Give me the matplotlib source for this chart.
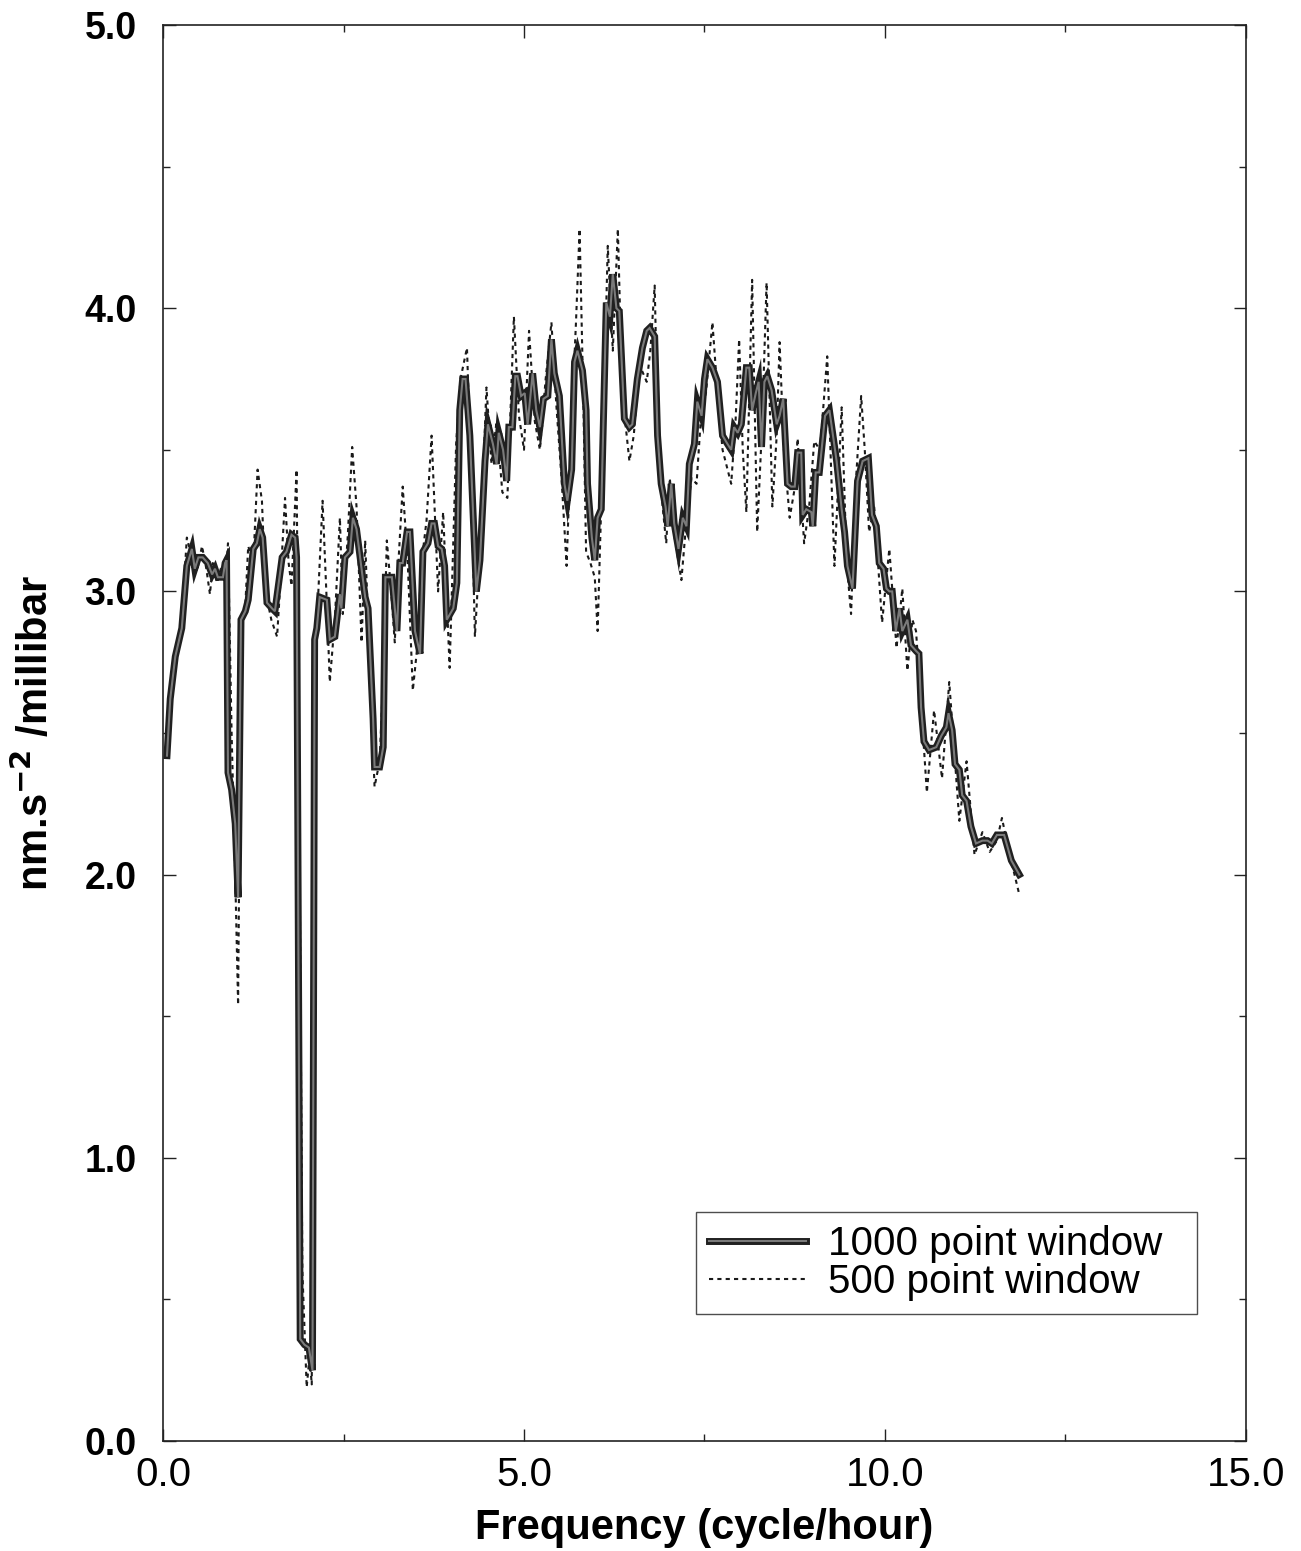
import matplotlib
matplotlib.use("Agg")
import matplotlib.pyplot as plt
import matplotlib.patheffects as pe
from matplotlib.ticker import MultipleLocator

plt.rcParams['font.family'] = ['Liberation Sans', 'DejaVu Sans']

# admittance spectrum, 1000 point window
freq_1000 = [0.055, 0.10, 0.17, 0.26, 0.33, 0.40, 0.44, 0.49, 0.55, 0.62, 0.68, 0.72, 0.76, 0.83,
             0.86, 0.88, 0.90, 0.95, 1.00, 1.04, 1.08, 1.14, 1.18, 1.25, 1.30, 1.34, 1.38, 1.44,
             1.51, 1.55, 1.65, 1.71, 1.78, 1.83, 1.85, 1.90, 1.96, 2.02, 2.07, 2.10, 2.13, 2.17,
             2.27, 2.31, 2.38, 2.45, 2.47, 2.52, 2.59, 2.63, 2.68, 2.73, 2.80, 2.84, 2.91, 2.93,
             3.00, 3.05, 3.08, 3.17, 3.24, 3.28, 3.32, 3.38, 3.42, 3.49, 3.56, 3.60, 3.67, 3.72,
             3.76, 3.81, 3.86, 3.90, 3.93, 4.02, 4.07, 4.11, 4.15, 4.19, 4.25, 4.34, 4.39, 4.46,
             4.50, 4.57, 4.62, 4.65, 4.71, 4.76, 4.79, 4.84, 4.88, 4.91, 4.96, 5.01, 5.05, 5.12,
             5.17, 5.22, 5.27, 5.33, 5.38, 5.42, 5.49, 5.56, 5.60, 5.66, 5.70, 5.74, 5.81, 5.86,
             5.88, 5.94, 5.98, 6.02, 6.07, 6.14, 6.19, 6.23, 6.28, 6.32, 6.39, 6.46, 6.50, 6.57,
             6.64, 6.70, 6.74, 6.81, 6.85, 6.90, 6.96, 6.99, 7.04, 7.08, 7.14, 7.20, 7.25, 7.29,
             7.36, 7.40, 7.46, 7.50, 7.54, 7.61, 7.68, 7.75, 7.82, 7.87, 7.91, 7.96, 8.01, 8.08,
             8.12, 8.16, 8.21, 8.25, 8.29, 8.33, 8.37, 8.43, 8.50, 8.54, 8.59, 8.65, 8.70, 8.75,
             8.79, 8.84, 8.86, 8.91, 8.98, 9.00, 9.04, 9.09, 9.17, 9.23, 9.33, 9.40, 9.44, 9.48,
             9.55, 9.62, 9.69, 9.77, 9.82, 9.88, 9.92, 9.98, 10.02, 10.06, 10.10, 10.15, 10.20,
             10.24, 10.31, 10.36, 10.43, 10.47, 10.50, 10.54, 10.61, 10.71, 10.78, 10.85, 10.88,
             10.93, 10.97, 11.03, 11.07, 11.13, 11.19, 11.26, 11.35, 11.42, 11.48, 11.55, 11.65,
             11.75, 11.86]
adm_1000 = [2.42, 2.62, 2.77, 2.87, 3.09, 3.15, 3.08, 3.12, 3.12, 3.10, 3.06, 3.08, 3.05, 3.05,
            3.10, 3.11, 2.36, 2.30, 2.18, 1.92, 2.90, 2.93, 2.97, 3.15, 3.17, 3.22, 3.19, 2.96,
            2.94, 2.93, 3.12, 3.14, 3.20, 3.19, 3.12, 0.36, 0.34, 0.33, 0.25, 2.83, 2.87, 2.98,
            2.97, 2.83, 2.84, 2.99, 2.94, 3.12, 3.14, 3.26, 3.22, 3.12, 2.98, 2.94, 2.55, 2.38,
            2.38, 2.45, 3.05, 3.05, 2.86, 3.10, 3.10, 3.21, 3.21, 2.86, 2.78, 3.14, 3.17, 3.24,
            3.24, 3.16, 3.15, 3.09, 2.90, 2.94, 3.03, 3.64, 3.75, 3.75, 3.55, 3.00, 3.11, 3.46,
            3.59, 3.52, 3.45, 3.56, 3.50, 3.39, 3.58, 3.58, 3.76, 3.76, 3.69, 3.70, 3.59, 3.77,
            3.64, 3.58, 3.68, 3.69, 3.89, 3.77, 3.69, 3.38, 3.32, 3.43, 3.81, 3.85, 3.78, 3.64,
            3.38, 3.19, 3.11, 3.26, 3.29, 4.02, 3.97, 4.12, 4.00, 3.99, 3.61, 3.58, 3.59, 3.75,
            3.86, 3.92, 3.93, 3.90, 3.55, 3.38, 3.30, 3.23, 3.38, 3.24, 3.15, 3.26, 3.23, 3.45,
            3.52, 3.67, 3.62, 3.75, 3.82, 3.79, 3.74, 3.55, 3.52, 3.50, 3.58, 3.56, 3.59, 3.79,
            3.79, 3.64, 3.70, 3.74, 3.51, 3.74, 3.76, 3.71, 3.59, 3.62, 3.68, 3.38, 3.37, 3.37,
            3.49, 3.49, 3.27, 3.29, 3.28, 3.23, 3.42, 3.42, 3.62, 3.64, 3.46, 3.29, 3.21, 3.09,
            3.01, 3.39, 3.46, 3.47, 3.27, 3.23, 3.10, 3.08, 3.01, 3.00, 3.00, 2.86, 2.94,
            2.86, 2.90, 2.81, 2.79, 2.78, 2.59, 2.47, 2.44, 2.45, 2.49, 2.52, 2.57,
            2.51, 2.39, 2.37, 2.28, 2.26, 2.17, 2.11, 2.12, 2.12, 2.11, 2.14, 2.14,
            2.05, 2.00]

# admittance spectrum, 500 point window
freq_500 = [0.05, 0.10, 0.17, 0.26, 0.33, 0.40, 0.47, 0.54, 0.60, 0.65, 0.69, 0.75, 0.80, 0.86,
            0.90, 0.95, 1.00, 1.04, 1.08, 1.14, 1.18, 1.25, 1.31, 1.37, 1.42, 1.50, 1.58, 1.63,
            1.69, 1.74, 1.78, 1.85, 1.88, 1.93, 1.99, 2.03, 2.06, 2.09, 2.11, 2.15, 2.21, 2.27,
            2.31, 2.38, 2.45, 2.49, 2.56, 2.62, 2.68, 2.75, 2.80, 2.86, 2.93, 3.00, 3.05, 3.10,
            3.16, 3.21, 3.26, 3.32, 3.39, 3.46, 3.52, 3.58, 3.65, 3.72, 3.81, 3.88, 3.97, 4.06,
            4.12, 4.21, 4.27, 4.32, 4.40, 4.48, 4.55, 4.62, 4.70, 4.77, 4.86, 4.93, 5.00, 5.07,
            5.15, 5.22, 5.30, 5.38, 5.45, 5.52, 5.59, 5.66, 5.72, 5.77, 5.82, 5.86, 5.92, 5.98,
            6.02, 6.08, 6.16, 6.23, 6.30, 6.36, 6.46, 6.52, 6.60, 6.70, 6.75, 6.81, 6.86, 6.92,
            6.97, 7.02, 7.08, 7.18, 7.25, 7.32, 7.39, 7.46, 7.52, 7.61, 7.68, 7.75, 7.87, 7.93,
            7.98, 8.03, 8.08, 8.16, 8.23, 8.30, 8.36, 8.44, 8.50, 8.54, 8.60, 8.68, 8.74, 8.79,
            8.88, 8.95, 9.02, 9.10, 9.20, 9.30, 9.40, 9.47, 9.53, 9.60, 9.67, 9.72, 9.78, 9.85,
            9.96, 10.06, 10.16, 10.24, 10.31, 10.38, 10.43, 10.50, 10.58, 10.68, 10.79, 10.89,
            10.97, 11.03, 11.13, 11.24, 11.35, 11.45, 11.55, 11.62, 11.70, 11.86]
adm_500 = [2.42, 2.65, 2.78, 2.90, 3.19, 3.12, 3.07, 3.16, 3.08, 2.99, 3.10, 3.03, 3.08, 3.04,
           3.17, 2.50, 2.00, 1.54, 2.85, 2.95, 3.16, 3.10, 3.43, 3.32, 3.00, 2.90, 2.84, 3.05,
           3.33, 3.10, 3.02, 3.43, 2.50, 0.60, 0.19, 0.30, 0.20, 1.50, 2.75, 2.99, 3.32, 2.95,
           2.68, 2.90, 3.26, 2.92, 3.20, 3.51, 3.30, 2.82, 3.18, 2.75, 2.31, 2.40, 2.70, 3.18,
           3.00, 2.82, 3.10, 3.37, 3.10, 2.65, 2.80, 3.10, 3.25, 3.55, 3.00, 3.28, 2.73, 3.52,
           3.75, 3.86, 3.40, 2.84, 3.20, 3.72, 3.45, 3.60, 3.35, 3.33, 3.97, 3.62, 3.50, 3.92,
           3.60, 3.50, 3.75, 3.95, 3.65, 3.40, 3.09, 3.60, 3.95, 4.28, 3.70, 3.14, 3.10, 3.05,
           2.86, 3.40, 4.22, 3.85, 4.28, 3.70, 3.46, 3.55, 3.80, 3.74, 3.85, 4.08, 3.50, 3.30,
           3.17, 3.40, 3.20, 3.04, 3.25, 3.40, 3.38, 3.65, 3.70, 3.95, 3.70, 3.50, 3.38, 3.60,
           3.89, 3.50, 3.28, 4.10, 3.21, 3.60, 4.09, 3.30, 3.55, 3.88, 3.50, 3.26, 3.35, 3.54,
           3.17, 3.30, 3.53, 3.50, 3.83, 3.09, 3.65, 3.10, 2.92, 3.40, 3.69, 3.50, 3.21, 3.30,
           2.89, 3.15, 2.80, 3.01, 2.72, 2.90, 2.86, 2.60, 2.29, 2.58, 2.34, 2.68,
           2.40, 2.19, 2.40, 2.07, 2.15, 2.08, 2.12, 2.20, 2.10, 1.93]

fig = plt.figure(figsize=(13.01, 15.51), dpi=100)
ax = fig.add_axes([0.1253, 0.0709, 0.8324, 0.913])

ax.plot(freq_500, adm_500, color='#1a1a1a', lw=1.5, linestyle=(0, (2, 2)),
        label='500 point window', zorder=2)
ax.plot(freq_1000, adm_1000, color='#7a7a7a', lw=1.5, solid_joinstyle='miter',
        label='1000 point window', zorder=3,
        path_effects=[pe.Stroke(linewidth=5.0, foreground='#202020'), pe.Normal()])

ax.set_xlim(0, 15)
ax.set_ylim(0, 5)
ax.xaxis.set_major_locator(MultipleLocator(5))
ax.xaxis.set_minor_locator(MultipleLocator(2.5))
ax.yaxis.set_major_locator(MultipleLocator(1))
ax.yaxis.set_minor_locator(MultipleLocator(0.5))
ax.set_xticklabels([f'{v:.1f}' for v in ax.get_xticks()])
ax.set_yticklabels([f'{v:.1f}' for v in ax.get_yticks()])

ax.tick_params(which='both', direction='in', top=True, right=True, width=1.0, color='#222222')
ax.tick_params(which='major', length=9)
ax.tick_params(which='minor', length=5)
ax.tick_params(axis='x', which='major', labelsize=29, pad=11)
ax.tick_params(axis='y', which='major', labelsize=27, pad=19)
for lab in ax.get_yticklabels():
    lab.set_fontweight('bold')
for sp in ax.spines.values():
    sp.set_linewidth(1.2)
    sp.set_color('#222222')

ax.set_xlabel('Frequency (cycle/hour)', fontsize=30, fontweight='bold', labelpad=10)
ax.set_ylabel(r'nm.s$^{\mathbf{-2}}$ /millibar', fontsize=30, fontweight='bold', labelpad=20)

handles, labels = ax.get_legend_handles_labels()
leg = ax.legend(handles[::-1], labels[::-1], loc='lower right', bbox_to_anchor=(0.955, 0.09),
                borderaxespad=0, fontsize=29, frameon=True, fancybox=False, shadow=False,
                handlelength=2.4, handletextpad=0.55, borderpad=0.32, labelspacing=0.0)
leg.get_frame().set_edgecolor('#222222')
leg.get_frame().set_linewidth(1.0)
# pad the labels so the frame leaves room right of the text
for txt in leg.get_texts():
    txt.set_text(txt.get_text() + '\u00a0\u00a0')

fig.savefig('out.png', dpi=100)
